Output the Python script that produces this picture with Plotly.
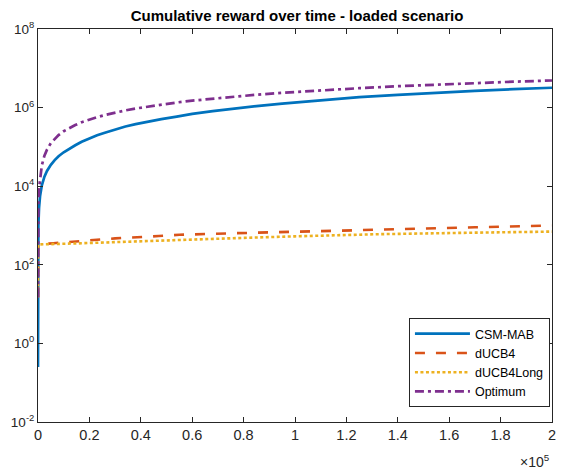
import plotly.graph_objects as go

# Time steps and cumulative reward of each policy
t_csm = [0, 10, 50, 150, 400, 800, 1500, 2500, 3500, 5000, 6500, 8000, 10000, 12000,
         14500, 17000, 20000, 23000, 26000, 30000, 34000, 38000, 43000, 48000, 54000,
         60000, 68000, 76000, 85000, 95000, 105000, 115000, 125000, 140000, 155000,
         170000, 185000, 200000]
r_csm = [0.25, 70, 350, 1050, 2800, 5600, 1.05e4, 1.75e4, 2.45e4, 3.5e4, 4.6e4, 5.8e4,
         7.3e4, 8.9e4, 1.1e5, 1.35e5, 1.65e5, 1.98e5, 2.3e5, 2.8e5, 3.3e5, 3.8e5, 4.45e5,
         5.1e5, 5.9e5, 6.9e5, 8.1e5, 9.4e5, 1.09e6, 1.26e6, 1.45e6, 1.64e6, 1.84e6,
         2.12e6, 2.4e6, 2.67e6, 2.94e6, 3.2e6]

t_ducb4 = [0, 50, 6000, 15000, 30000, 47000, 55000, 74000, 100000, 138000, 170000, 200000]
r_ducb4 = [15, 330, 355, 400, 470, 540, 580, 630, 700, 810, 900, 1000]

t_ducb4long = [0, 50, 15000, 30000, 50000, 74000, 100000, 132000, 165000, 200000]
r_ducb4long = [15, 330, 350, 380, 420, 470, 530, 600, 650, 700]

t_opt = [0, 10, 50, 150, 400, 800, 1500, 2500, 3500, 5000, 6500, 8000, 10000, 12000,
         14500, 17000, 20000, 23000, 26000, 30000, 34000, 38000, 43000, 48000, 54000,
         60000, 68000, 76000, 85000, 95000, 105000, 115000, 125000, 140000, 155000,
         170000, 185000, 200000]
r_opt = [15, 250, 1100, 3300, 8800, 1.7e4, 3.4e4, 6e4, 8.5e4, 1.25e5, 1.62e5, 2.0e5,
         2.5e5, 3.0e5, 3.6e5, 4.25e5, 5.0e5, 5.7e5, 6.45e5, 7.45e5, 8.5e5, 9.5e5, 1.07e6,
         1.2e6, 1.35e6, 1.5e6, 1.7e6, 1.9e6, 2.13e6, 2.38e6, 2.62e6, 2.87e6, 3.12e6,
         3.5e6, 3.87e6, 4.22e6, 4.57e6, 4.9e6]

x_tickvals = [0, 20000, 40000, 60000, 80000, 100000, 120000, 140000, 160000, 180000, 200000]
x_ticktext = ["0", "0.2", "0.4", "0.6", "0.8", "1", "1.2", "1.4", "1.6", "1.8", "2"]
y_tickvals = [1e-2, 1e0, 1e2, 1e4, 1e6, 1e8]
y_ticktext = ["10<sup>-2</sup>", "10<sup>0</sup>", "10<sup>2</sup>",
              "10<sup>4</sup>", "10<sup>6</sup>", "10<sup>8</sup>"]

FONT = "Liberation Sans, Arial, Helvetica, sans-serif"
AX = "#262626"

fig = go.Figure()
fig.add_trace(go.Scatter(x=t_csm, y=r_csm, mode="lines", name="CSM-MAB",
                         line=dict(color="#0072BD", width=2.7)))
fig.add_trace(go.Scatter(x=t_ducb4, y=r_ducb4, mode="lines", name="dUCB4",
                         line=dict(color="#D95319", width=2.6, dash="10px,11px")))
fig.add_trace(go.Scatter(x=t_ducb4long, y=r_ducb4long, mode="lines", name="dUCB4Long",
                         line=dict(color="#EDB120", width=2.6, dash="3px,2.5px")))
fig.add_trace(go.Scatter(x=t_opt, y=r_opt, mode="lines", name="Optimum",
                         line=dict(color="#7E2F8E", width=2.7, dash="9px,4px,3px,4px")))

fig.update_layout(
    width=561, height=472,
    margin=dict(l=38, r=5, t=29, b=50),
    paper_bgcolor="white", plot_bgcolor="white",
    font=dict(family=FONT, size=13, color=AX),
    title=dict(text="<b>Cumulative reward over time - loaded scenario</b>",
               x=(38 + 556) / 2 / 561, xanchor="center", y=1 - 16 / 472, yanchor="middle",
               font=dict(size=15, color="black")),
    showlegend=True,
    legend=dict(x=0.996, y=0.038, xanchor="right", yanchor="bottom",
                bgcolor="white", bordercolor=AX, borderwidth=1, itemwidth=55,
                font=dict(size=12.5, color="black"), tracegroupgap=0),
    xaxis=dict(range=[0, 200000], tickvals=x_tickvals, ticktext=x_ticktext,
               showline=True, linecolor=AX, linewidth=1, mirror="ticks",
               ticks="inside", ticklen=5, tickcolor=AX, showgrid=False, zeroline=False,
               tickfont=dict(size=14.5, color=AX)),
    yaxis=dict(type="log", range=[-2, 8], tickvals=y_tickvals, ticktext=y_ticktext,
               showline=True, linecolor=AX, linewidth=1, mirror="ticks",
               ticks="inside", ticklen=5, tickcolor=AX, showgrid=False, zeroline=False,
               tickfont=dict(size=13.5, color=AX)),
)

fig.add_annotation(text="×10<sup>5</sup>", xref="paper", yref="paper",
                   x=1.0, y=-0.07, xanchor="right", yanchor="top", showarrow=False,
                   font=dict(size=14, color=AX))

fig.write_html("out.html")
